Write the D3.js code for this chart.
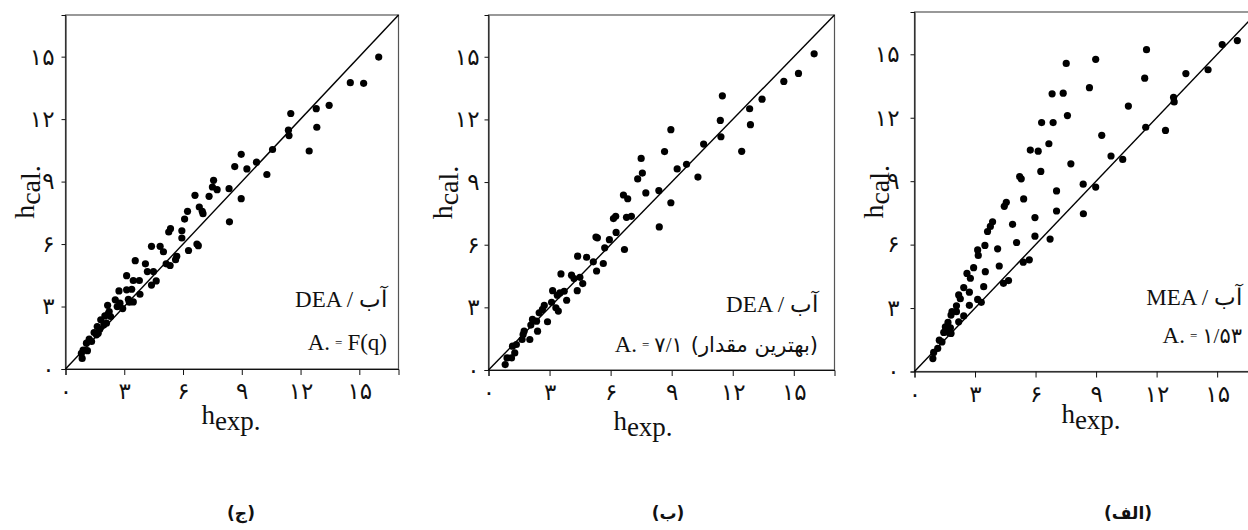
<!DOCTYPE html>
<html>
<head>
<meta charset="utf-8">
<script src="https://cdn.jsdelivr.net/npm/d3@7"></script>
<style>
  body { margin: 0; background: #fff; }
  svg { display: block; }
</style>
</head>
<body>
<svg id="chart" width="1248" height="530"></svg>
<script>
// tick values shared by all three panels
const ticks = [0, 3, 6, 9, 12, 15];
const domainMax = 17;

// (ج) DEA / water, A = F(q)   [h_exp, h_cal]
const ptsJ = [
  [15.99, 14.98], [14.54, 13.75], [15.22, 13.72], [13.46, 12.66], [12.80, 12.50],
  [12.83, 11.61], [11.50, 12.27], [11.38, 11.47], [11.41, 11.21], [12.44, 10.47],
  [10.57, 10.54], [9.75, 9.93], [8.97, 10.31], [8.64, 9.72], [9.26, 9.61],
  [10.28, 9.34], [7.56, 9.06], [7.50, 8.74], [7.74, 8.61], [8.35, 8.66],
  [7.33, 8.29], [6.61, 8.34], [8.97, 8.18], [6.83, 7.78], [6.98, 7.57],
  [7.02, 7.46], [6.23, 7.57], [6.08, 7.20], [8.37, 7.07], [5.36, 6.74],
  [5.27, 6.58], [5.94, 6.64], [5.94, 6.29], [6.28, 5.69], [6.71, 6.00],
  [6.78, 5.92], [4.39, 5.89], [4.83, 5.89], [5.00, 5.63], [5.68, 5.41],
  [5.62, 5.25], [5.14, 5.05], [5.34, 4.97], [3.56, 5.20], [4.08, 5.05],
  [4.18, 4.68], [4.49, 4.68], [4.39, 4.03], [4.63, 4.23], [3.12, 4.48],
  [3.46, 4.25], [3.77, 4.25], [2.73, 3.75], [3.12, 3.80], [3.38, 3.83],
  [3.80, 3.59], [3.21, 3.35], [3.46, 3.22], [3.26, 3.21], [2.54, 3.32],
  [2.78, 3.16], [2.64, 3.00], [2.92, 2.90], [2.15, 3.06], [2.23, 2.76],
  [2.18, 2.65], [2.01, 2.55], [2.30, 2.52], [1.80, 2.36], [2.09, 2.20],
  [1.96, 2.12], [1.62, 2.04], [1.75, 1.91], [1.46, 1.75], [1.67, 1.72],
  [1.58, 1.64], [1.21, 1.43], [1.33, 1.32], [1.07, 1.24], [0.90, 0.91],
  [1.12, 0.88], [0.81, 0.75], [0.85, 0.51]
];

// (ب) DEA / water, A = 7.1 (best value)
const ptsB = [
  [16.00, 15.14], [15.23, 14.20], [14.51, 13.82], [11.49, 13.13], [13.44, 12.97],
  [12.83, 12.51], [12.87, 11.75], [11.39, 11.95], [11.42, 11.17], [12.44, 10.47],
  [8.96, 11.51], [10.57, 10.82], [8.65, 10.46], [7.50, 10.13], [7.56, 9.43],
  [7.33, 9.15], [9.27, 9.63], [9.73, 9.85], [10.29, 9.24], [6.63, 8.38],
  [6.84, 8.20], [7.73, 8.48], [8.37, 8.59], [8.96, 8.01], [6.78, 7.31],
  [7.02, 7.36], [6.14, 7.25], [6.25, 7.36], [6.27, 6.59], [5.94, 6.24],
  [5.71, 5.85], [8.39, 6.85], [5.28, 6.37], [5.35, 6.33], [6.68, 5.77],
  [4.38, 5.45], [4.82, 5.40], [5.15, 5.18], [5.64, 5.10], [5.31, 4.74],
  [3.56, 4.60], [4.08, 4.54], [4.49, 4.44], [4.20, 4.38], [4.63, 4.14],
  [4.36, 3.80], [3.15, 3.80], [3.51, 3.69], [3.72, 3.77], [3.84, 3.34],
  [3.10, 3.24], [3.38, 3.58], [3.43, 2.82], [3.31, 2.98], [2.74, 3.09],
  [2.65, 2.90], [2.49, 2.74], [2.90, 2.31], [2.16, 2.42], [2.36, 2.34],
  [2.41, 1.86], [2.08, 2.15], [1.75, 1.86], [1.70, 1.70], [2.03, 1.46],
  [1.65, 1.46], [1.37, 1.22], [1.18, 1.14], [1.29, 0.82], [1.13, 0.58],
  [0.91, 0.58], [0.82, 0.26]
];

// (الف) MEA / water, A = 1.53
const ptsAlef = [
  [16.00, 15.65], [15.25, 15.46], [13.45, 14.09], [14.55, 14.27], [11.50, 15.22],
  [11.41, 13.87], [8.98, 14.76], [7.52, 14.57], [8.67, 13.42], [6.82, 13.13],
  [7.37, 13.16], [12.84, 12.96], [12.87, 12.75], [10.60, 12.55], [7.58, 12.10],
  [6.30, 11.77], [6.87, 11.77], [11.46, 11.55], [12.44, 11.40], [9.28, 11.17],
  [6.66, 10.77], [5.74, 10.47], [6.13, 10.42], [9.74, 10.19], [10.32, 10.03],
  [7.75, 9.82], [6.26, 9.46], [5.21, 9.22], [5.29, 9.11], [8.36, 8.86],
  [8.98, 8.72], [7.04, 8.54], [5.41, 8.16], [4.55, 8.00], [4.45, 7.81],
  [7.04, 7.59], [8.37, 7.46], [5.97, 7.28], [4.86, 6.96], [3.87, 7.08],
  [3.76, 6.86], [3.62, 6.62], [5.97, 6.40], [5.06, 6.10], [6.72, 6.26],
  [3.49, 5.96], [3.13, 5.75], [3.16, 5.49], [4.12, 5.80], [2.93, 4.91],
  [3.51, 4.72], [4.20, 4.99], [5.39, 5.17], [5.69, 5.28], [2.60, 4.64],
  [2.77, 4.41], [4.41, 4.17], [4.66, 4.30], [2.44, 3.97], [2.72, 3.75],
  [3.43, 4.01], [3.13, 3.41], [3.31, 3.27], [2.19, 3.62], [2.27, 3.44],
  [2.72, 3.13], [2.08, 3.11], [1.86, 2.83], [1.81, 2.67], [2.08, 2.83],
  [2.44, 2.63], [2.19, 2.35], [1.66, 2.32], [1.53, 2.11], [1.78, 2.07],
  [1.70, 1.85], [1.45, 1.85], [1.81, 1.80], [1.23, 1.48], [1.36, 1.40],
  [1.15, 1.09], [0.95, 0.90], [0.91, 0.61]
];

const solventLabels = ['DEA / آب', 'DEA / آب', 'MEA / آب'];
const aValues = ['F(q)', '۷/۱', '۱/۵۳'];
const aNotes = ['', '(بهترین مقدار)', ''];
const captions = ['(ج)', '(ب)', '(الف)'];

const serif = '"Liberation Serif", "Times New Roman", serif';
const faFont = '"Liberation Serif", "DejaVu Sans", sans-serif';
const faDigits = s => String(s).replace(/[0-9]/g, d => '۰۱۲۳۴۵۶۷۸۹'[d]);

const svg = d3.select('#chart');

const panels = [
  { pts: ptsJ, left: 65.5, top: 15, w: 333, h: 354, yGap: 11,
    ylabX: 34, xlabX: 231, xlabY: 424, textRight: 387, row1: 307, row2: 350, capX: 241 },
  { pts: ptsB, left: 488.5, top: 15, w: 346, h: 355, yGap: 9,
    ylabX: 452, xlabX: 643, xlabY: 430, textRight: 818, row1: 312, row2: 352, capX: 668 },
  { pts: ptsAlef, left: 914.5, top: 12, w: 343, h: 359.5, yGap: 15,
    ylabX: 883, xlabX: 1091, xlabY: 423, textRight: 1242, row1: 305, row2: 343, capX: 1128 }
];

// lay out a row of text pieces left to right, right-aligned at xRight
const textRow = (g, segs, xRight, y) => {
  let nodes = segs.map(s => g.append('text')
    .text(s.t)
    .attr('font-family', s.font || serif)
    .attr('font-size', s.size)
    .attr('fill', '#111'));
  let widths = nodes.map(n => n.node().getComputedTextLength());
  let total = d3.sum(widths) + d3.sum(segs, s => s.gap || 0);
  let x = xRight - total;
  nodes.forEach((n, i) => {
    n.attr('x', x).attr('y', y + (segs[i].dy || 0));
    x += widths[i] + (segs[i].gap || 0);
  });
};

panels.forEach((p, i) => {
  const x = d3.scaleLinear().domain([0, domainMax]).range([p.left, p.left + p.w]);
  const y = d3.scaleLinear().domain([0, domainMax]).range([p.top + p.h, p.top]);
  const g = svg.append('g');

  // frame
  g.append('rect')
    .attr('x', p.left).attr('y', p.top)
    .attr('width', p.w).attr('height', p.h)
    .attr('fill', 'none').attr('stroke', '#555').attr('stroke-width', 1.2);

  // x axis
  const xAxis = g.append('g')
    .attr('transform', `translate(0,${p.top + p.h})`)
    .call(d3.axisBottom(x).tickValues(ticks).tickSize(6).tickPadding(8).tickFormat(faDigits));
  xAxis.select('.domain').attr('stroke', '#111');
  xAxis.selectAll('.tick line').attr('stroke', '#111');
  xAxis.selectAll('.tick text').attr('font-family', faFont).attr('font-size', 23).attr('fill', '#111');

  // y axis
  const yAxis = g.append('g')
    .attr('transform', `translate(${p.left},0)`)
    .call(d3.axisLeft(y).tickValues(ticks).tickSize(4).tickPadding(p.yGap - 4).tickFormat(faDigits));
  yAxis.select('.domain').attr('stroke', '#111');
  yAxis.selectAll('.tick line').attr('stroke', '#111');
  yAxis.selectAll('.tick text').attr('font-family', faFont).attr('font-size', 23).attr('fill', '#111');

  // y = x reference line
  g.append('line')
    .attr('x1', x(0)).attr('y1', y(0))
    .attr('x2', x(domainMax)).attr('y2', y(domainMax))
    .attr('stroke', '#000').attr('stroke-width', 1.4);

  // points
  g.selectAll('circle.pt')
    .data(p.pts)
    .enter().append('circle')
    .attr('class', 'pt')
    .attr('cx', d => x(d[0]))
    .attr('cy', d => y(d[1]))
    .attr('r', 3.6)
    .attr('fill', '#000');

  // axis titles
  const xl = g.append('text')
    .attr('x', p.xlabX).attr('y', p.xlabY)
    .attr('text-anchor', 'middle')
    .attr('font-family', serif).attr('font-size', 27).attr('fill', '#111');
  xl.append('tspan').text('h');
  xl.append('tspan').attr('dy', 6).text('exp.');

  const yl = g.append('text')
    .attr('transform', `translate(${p.ylabX},${p.top + p.h / 2}) rotate(-90)`)
    .attr('text-anchor', 'middle')
    .attr('font-family', serif).attr('font-size', 28).attr('fill', '#111');
  yl.append('tspan').text('h');
  yl.append('tspan').attr('dy', 6).text('cal.');

  // annotations
  textRow(g, [{ t: solventLabels[i], size: 23 }], p.textRight, p.row1);
  let row2 = [
    { t: 'A.', size: 23, gap: 5 },
    { t: '=', size: 13, gap: 5, dy: -3 },
    { t: aValues[i], size: i === 0 ? 23 : 21, font: faFont, gap: aNotes[i] ? 8 : 0 }
  ];
  if (aNotes[i]) row2.push({ t: aNotes[i], size: 21, font: '"DejaVu Sans", sans-serif' });
  textRow(g, row2, p.textRight, p.row2);

  // panel caption
  g.append('text')
    .attr('x', p.capX).attr('y', 519)
    .attr('text-anchor', 'middle')
    .attr('font-family', '"DejaVu Sans", sans-serif')
    .attr('font-weight', 'bold').attr('font-size', 17).attr('fill', '#111')
    .text(captions[i]);
});
</script>
</body>
</html>
